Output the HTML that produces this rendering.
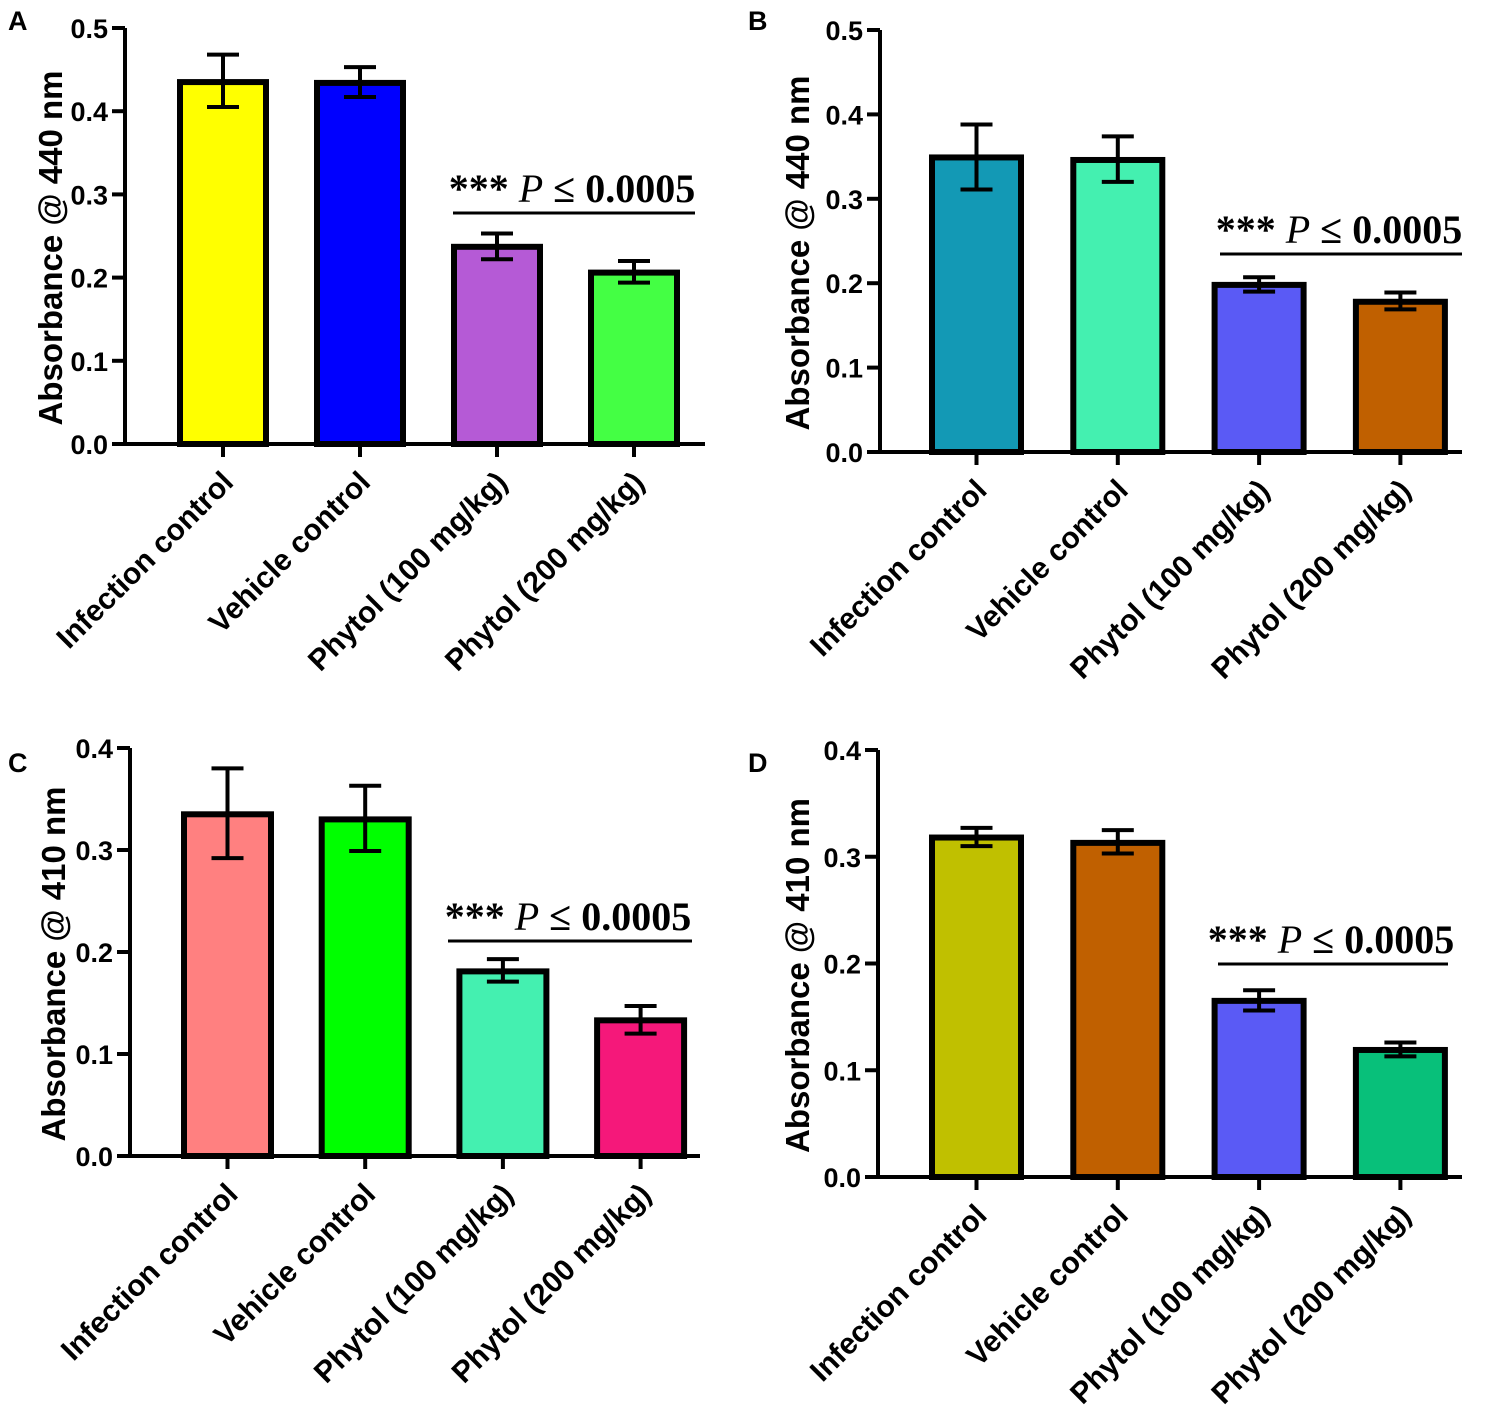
<!DOCTYPE html>
<html><head><meta charset="utf-8"><style>
html,body{margin:0;padding:0;background:#fff}
svg{display:block}
text{font-family:"Liberation Sans",Arial,sans-serif;font-weight:bold;fill:#000}
</style></head><body>
<svg id="chart" width="1510" height="1426" viewBox="0 0 1510 1426" xmlns="http://www.w3.org/2000/svg"></svg>
<script>
const categories = ["Infection control","Vehicle control","Phytol (100 mg/kg)","Phytol (200 mg/kg)"];
const valuesA = [0.435, 0.434, 0.237, 0.206];
const errLoA = [0.405, 0.417, 0.222, 0.194];
const errHiA = [0.468, 0.453, 0.253, 0.220];
const valuesB = [0.349, 0.346, 0.198, 0.178];
const errLoB = [0.311, 0.320, 0.190, 0.169];
const errHiB = [0.388, 0.374, 0.207, 0.189];
const valuesC = [0.335, 0.330, 0.181, 0.133];
const errLoC = [0.292, 0.299, 0.171, 0.120];
const errHiC = [0.380, 0.363, 0.193, 0.147];
const valuesD = [0.318, 0.313, 0.165, 0.119];
const errLoD = [0.310, 0.303, 0.156, 0.113];
const errHiD = [0.327, 0.325, 0.175, 0.126];
const ticksA = ["0.0","0.1","0.2","0.3","0.4","0.5"];
const ticksC = ["0.0","0.1","0.2","0.3","0.4"];
const sigLabel = "0.0005";

const NS="http://www.w3.org/2000/svg";
const svg=document.getElementById('chart');
function mk(tag,attrs,parent){const e=document.createElementNS(NS,tag);for(const k in attrs)e.setAttribute(k,attrs[k]);(parent||svg).appendChild(e);return e;}

const panels=[
 {id:'a',letter:'A',lx:8,ly:30,ax:125,y0:444,yTop:28,max:0.5,ticks:ticksA,x0:180,step:137,bw:86,xEnd:705,vals:valuesA,lo:errLoA,hi:errHiA,
  colors:['#ffff00','#0000ff','#b55ad6','#44ff44'],title:'Absorbance @ 440 nm',tx:50,sig:{x1:453,x2:695,y:213}},
 {id:'b',letter:'B',lx:748,ly:30,ax:880,y0:452,yTop:30,max:0.5,ticks:ticksA,x0:932,step:141.3,bw:89,xEnd:1462,vals:valuesB,lo:errLoB,hi:errHiB,
  colors:['#1399b5','#44f0b0','#5a5af5','#c06000'],title:'Absorbance @ 440 nm',tx:797,sig:{x1:1220,x2:1462,y:254}},
 {id:'c',letter:'C',lx:8,ly:772,ax:130,y0:1156,yTop:748,max:0.4,ticks:ticksC,x0:184,step:137.7,bw:87,xEnd:700,vals:valuesC,lo:errLoC,hi:errHiC,
  colors:['#ff8080','#00ff00','#44f0b0','#f5187a'],title:'Absorbance @ 410 nm',tx:53,sig:{x1:448,x2:692,y:941}},
 {id:'d',letter:'D',lx:748,ly:772,ax:878,y0:1177,yTop:750,max:0.4,ticks:ticksC,x0:932,step:141.3,bw:89,xEnd:1462,vals:valuesD,lo:errLoD,hi:errHiD,
  colors:['#c0c000','#c06000','#5a5af5','#08c07a'],title:'Absorbance @ 410 nm',tx:797,sig:{x1:1218,x2:1448,y:964}}
];

panels.forEach(p=>{
 const g=mk('g',{});
 
 
 const ys=v=>p.y0-(v/p.max)*(p.y0-p.yTop);
 const L=mk('text',{x:p.lx,y:p.ly,'font-size':27},g);L.textContent=p.letter;
 
 
 p.vals.forEach((v,i)=>{
  const x=p.x0+i*p.step, cx=x+p.bw/2;
  const r=mk('rect',{x:x,y:ys(v),width:p.bw,height:p.y0-ys(v),fill:p.colors[i],stroke:'#000','stroke-width':6},g);
  
  
  const e=mk('path',{d:`M${cx},${ys(p.lo[i])}V${ys(p.hi[i])}M${cx-16},${ys(p.hi[i])}H${cx+16}M${cx-16},${ys(p.lo[i])}H${cx+16}`,stroke:'#000','stroke-width':4,fill:'none'},g);
  
  
  mk('line',{x1:cx,x2:cx,y1:p.y0,y2:p.y0+13,stroke:'#000','stroke-width':4},g);
  const t=mk('text',{x:0,y:0,'font-size':30,'text-anchor':'end',transform:`translate(${cx+12},${p.y0+40}) rotate(-45)`},g);
  t.textContent=categories[i];
  
  
 });
 mk('path',{d:`M${p.ax},${p.yTop}V${p.y0}H${p.xEnd}`,stroke:'#000','stroke-width':4,fill:'none'},g);
 p.ticks.forEach((lab,k)=>{
  const v=parseFloat(lab), y=ys(v);
  mk('line',{x1:p.ax-13,x2:p.ax,y1:y,y2:y,stroke:'#000','stroke-width':4},g);
  const t=mk('text',{x:p.ax-17,y:y+10,'font-size':27,'text-anchor':'end'},g);t.textContent=lab;
  
  
 });
 const cy=(p.yTop+p.y0)/2+12;
 const yt=mk('text',{x:0,y:0,'font-size':33,'text-anchor':'middle',transform:`translate(${p.tx+12},${cy}) rotate(-90)`},g);
 yt.textContent=p.title;
 
 
 mk('line',{x1:p.sig.x1,x2:p.sig.x2,y1:p.sig.y,y2:p.sig.y,stroke:'#000','stroke-width':3},g);
 const st=mk('text',{x:(p.sig.x1+p.sig.x2)/2-2,y:p.sig.y-11,'font-size':40,'text-anchor':'middle',style:'font-family:"Liberation Serif",serif'},g);
 
 
 const s1=mk('tspan',{},st);s1.textContent='*** ';
 const s2=mk('tspan',{'font-style':'italic','font-weight':'normal'},st);s2.textContent='P';
 const s3=mk('tspan',{},st);s3.textContent=' ≤ '+sigLabel;
});
</script>
</body></html>
